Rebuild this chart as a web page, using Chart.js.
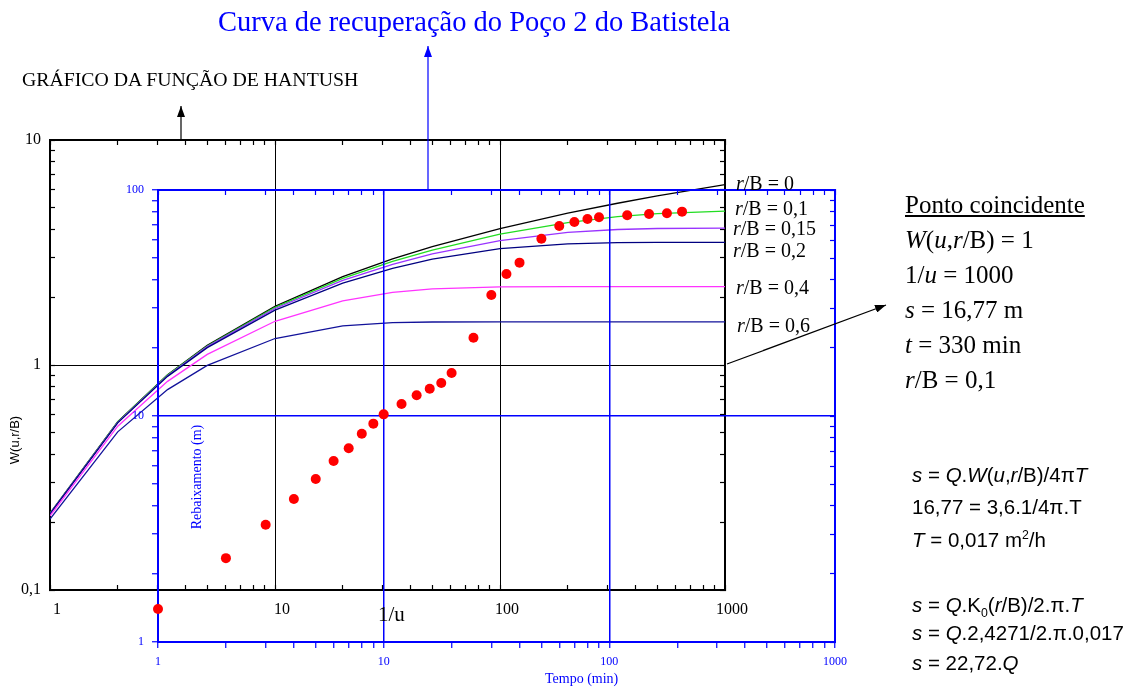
<!DOCTYPE html>
<html>
<head>
<meta charset="utf-8">
<script src="https://cdn.jsdelivr.net/npm/chart.js@4.4.0/dist/chart.umd.min.js"></script>
<style>
  body { margin: 0; background: #fff; }
  #wrap { position: relative; width: 1137px; height: 689px; overflow: hidden; font-family: "Liberation Serif", "Times New Roman", serif; color: #000; }
  #wrap canvas, #wrap svg { position: absolute; left: 0; top: 0; }
  .t { position: absolute; white-space: nowrap; line-height: 1; }
  .sans { font-family: "Liberation Sans", Arial, sans-serif; }
  .rot { transform: translate(-50%, -50%) rotate(-90deg); }
  sup, sub { font-size: 0.6em; line-height: 0; }
</style>
</head>
<body>
<div id="wrap">
  <canvas id="hantushChart" width="1137" height="689"></canvas>
  <canvas id="pocoChart" width="1137" height="689"></canvas>

  <svg width="1137" height="689">
    <defs>
      <marker id="headBlack" markerUnits="userSpaceOnUse" markerWidth="11" markerHeight="8" refX="11" refY="4" orient="auto">
        <path d="M0,0 L11,4 L0,8 z" fill="#000"/>
      </marker>
      <marker id="headBlue" markerUnits="userSpaceOnUse" markerWidth="11" markerHeight="8" refX="11" refY="4" orient="auto">
        <path d="M0,0 L11,4 L0,8 z" fill="#0000ff"/>
      </marker>
    </defs>
    <line x1="181" y1="139" x2="181" y2="106" stroke="#000" stroke-width="1.2" marker-end="url(#headBlack)"/>
    <line x1="428" y1="189" x2="428" y2="46" stroke="#0000ff" stroke-width="1.2" marker-end="url(#headBlue)"/>
    <line x1="727" y1="364" x2="886" y2="305" stroke="#000" stroke-width="1.2" marker-end="url(#headBlack)"/>
  </svg>

  <!-- titles -->
  <div class="t" style="left:218px; top:8px; font-size:28.5px; color:#0000ff;">Curva de recuperação do Poço 2 do Batistela</div>
  <div class="t" style="left:22px; top:70px; font-size:19.8px;">GRÁFICO DA FUNÇÃO DE HANTUSH</div>

  <!-- curve labels -->
  <div class="t" style="left:736px; top:173px; font-size:20px;"><i>r</i>/B = 0</div>
  <div class="t" style="left:735px; top:198px; font-size:20px;"><i>r</i>/B = 0,1</div>
  <div class="t" style="left:733px; top:218px; font-size:20px;"><i>r</i>/B = 0,15</div>
  <div class="t" style="left:733px; top:240px; font-size:20px;"><i>r</i>/B = 0,2</div>
  <div class="t" style="left:736px; top:277px; font-size:20px;"><i>r</i>/B = 0,4</div>
  <div class="t" style="left:737px; top:315px; font-size:20px;"><i>r</i>/B = 0,6</div>

  <!-- ponto coincidente -->
  <div class="t" style="left:905px; top:192px; font-size:25px;"><u>Ponto coincidente</u></div>
  <div class="t" style="left:905px; top:227px; font-size:25px;"><i>W</i>(<i>u</i>,<i>r</i>/B) = 1</div>
  <div class="t" style="left:905px; top:262px; font-size:25px;">1/<i>u</i> = 1000</div>
  <div class="t" style="left:905px; top:297px; font-size:25px;"><i>s</i> = 16,77 m</div>
  <div class="t" style="left:905px; top:332px; font-size:25px;"><i>t</i> = 330 min</div>
  <div class="t" style="left:905px; top:367px; font-size:25px;"><i>r</i>/B = 0,1</div>

  <!-- formulas -->
  <div class="t sans" style="left:912px; top:465px; font-size:20.5px;"><i>s</i> = <i>Q</i>.<i>W</i>(<i>u</i>,<i>r</i>/B)/4π<i>T</i></div>
  <div class="t sans" style="left:912px; top:497px; font-size:20.5px;">16,77 = 3,6.1/4π.T</div>
  <div class="t sans" style="left:912px; top:530px; font-size:20.5px;"><i>T</i> = 0,017 m<sup>2</sup>/h</div>
  <div class="t sans" style="left:912px; top:595px; font-size:20.5px;"><i>s</i> = <i>Q</i>.K<sub>0</sub>(<i>r</i>/B)/2.π.<i>T</i></div>
  <div class="t sans" style="left:912px; top:623px; font-size:20.5px;"><i>s</i> = <i>Q</i>.2,4271/2.π.0,017</div>
  <div class="t sans" style="left:912px; top:653px; font-size:20.5px;"><i>s</i> = 22,72.<i>Q</i></div>

  <!-- axis titles -->
  <div class="t" style="left:378px; top:604px; font-size:21px;">1/u</div>
  <div class="t sans rot" style="left:14px; top:440px; font-size:13px;">W(u,r/B)</div>
  <div class="t rot" style="left:197px; top:477px; font-size:14px; color:#0000ff;">Rebaixamento (m)</div>
  <div class="t" style="left:545px; top:672px; font-size:14px; color:#0000ff;">Tempo (min)</div>
</div>

<script>
// Hantush type curves W(u, r/B) against 1/u
const invU = [1, 2, 3.33, 5, 10, 20, 33.3, 50, 100, 200, 333, 500, 1000];
const wRB0   = [0.2194, 0.5598, 0.9057, 1.2227, 1.8229, 2.4679, 2.9591, 3.3547, 4.0379, 4.7261, 5.2349, 5.6394, 6.3315];
const wRB01  = [0.2190, 0.5582, 0.9018, 1.2155, 1.8050, 2.4270, 2.8870, 3.2440, 3.8150, 4.2960, 4.5620, 4.7080, 4.8290];
const wRB015 = [0.2186, 0.5561, 0.8969, 1.2066, 1.7830, 2.3780, 2.8020, 3.1160, 3.5725, 3.8820, 4.0020, 4.0433, 4.0596];
const wRB02  = [0.2179, 0.5533, 0.8903, 1.1944, 1.7527, 2.3110, 2.6895, 2.9520, 3.2875, 3.4567, 3.4965, 3.5043, 3.5054];
const wRB04  = [0.2136, 0.5344, 0.8457, 1.1145, 1.5643, 1.9283, 2.1028, 2.1809, 2.2254, 2.2291, 2.2291, 2.2291, 2.2291];
const wRB06  = [0.2065, 0.5044, 0.7775, 0.9965, 1.3114, 1.4927, 1.5423, 1.5530, 1.5550, 1.5550, 1.5550, 1.5550, 1.5550];

// Recovery data, Poco 2 (tempo in min, rebaixamento in m)
const tempo  = [1, 2, 3, 4, 5, 6, 7, 8, 9, 10, 12, 14, 16, 18, 20, 25, 30, 35, 40, 50, 60, 70, 80, 90, 120, 150, 180, 210];
const rebaix = [1.40, 2.35, 3.30, 4.29, 5.26, 6.32, 7.20, 8.35, 9.25, 10.17, 11.3, 12.35, 13.2, 14.0, 15.5, 22.2, 34.3, 42.5, 47.7, 60.9, 69.3, 72.2, 74.4, 75.7, 77.3, 78.3, 78.9, 80.2];

// tick positions and labels
const ticks1to1000 = [1, 2, 3, 4, 5, 6, 7, 8, 9, 10, 20, 30, 40, 50, 60, 70, 80, 90, 100, 200, 300, 400, 500, 600, 700, 800, 900, 1000];
const ticks01to10 = [0.1, 0.2, 0.3, 0.4, 0.5, 0.6, 0.7, 0.8, 0.9, 1, 2, 3, 4, 5, 6, 7, 8, 9, 10];
const ticks1to100 = [1, 2, 3, 4, 5, 6, 7, 8, 9, 10, 20, 30, 40, 50, 60, 70, 80, 90, 100];
const hXMajor = [1, 10, 100, 1000];
const hXLabels = ['1', '10', '100', '1000'];
const hYMajor = [0.1, 1, 10];
const hYLabels = ['0,1', '1', '10'];
const pXMajor = [1, 10, 100, 1000];
const pXLabels = ['1', '10', '100', '1000'];
const pYMajor = [1, 10, 100];
const pYLabels = ['1', '10', '100'];

const clear = 'rgba(0,0,0,0)';

function pairs(xs, ys) {
  return xs.map((x, i) => ({ x: x, y: ys[i] }));
}

// one log axis, its own tick list, labels only on decades
function logAxis(o) {
  return {
    type: 'logarithmic',
    position: o.position,
    min: o.min,
    max: o.max,
    afterBuildTicks: (scale) => { scale.ticks = o.ticks.map(v => ({ value: v })); },
    afterFit: (scale) => {
      if (o.position === 'top' || o.position === 'bottom') scale.height = o.size;
      else scale.width = o.size;
    },
    border: { display: true, color: o.color, width: 2 },
    grid: {
      drawOnChartArea: !!o.gridAt,
      color: (ctx) => (o.gridAt && ctx.tick && o.gridAt.includes(ctx.tick.value)) ? o.color : clear,
      lineWidth: o.gridWidth || 1,
      tickColor: o.color,
      tickLength: o.tickLength,
      tickWidth: 1.2
    },
    ticks: {
      display: !!o.labels,
      autoSkip: false,
      maxRotation: 0,
      padding: o.padding || 0,
      labelOffset: o.labelOffset || 0,
      color: o.color,
      font: { family: '"Liberation Serif", serif', size: o.fontSize || 12 },
      callback: (v) => {
        if (!o.labels) return '';
        const k = o.major.indexOf(v);
        return k >= 0 ? o.labels[k] : '';
      }
    }
  };
}

const baseOptions = {
  responsive: false,
  animation: false,
  events: [],
  plugins: { legend: { display: false }, tooltip: { enabled: false } }
};

// Hantush chart (black axes)
new Chart(document.getElementById('hantushChart'), {
  type: 'line',
  data: {
    datasets: [
      { data: pairs(invU, wRB06),  borderColor: '#12129a' },
      { data: pairs(invU, wRB04),  borderColor: '#ff33ff' },
      { data: pairs(invU, wRB02),  borderColor: '#000080' },
      { data: pairs(invU, wRB015), borderColor: '#9933ff' },
      { data: pairs(invU, wRB01),  borderColor: '#22dd22' },
      { data: pairs(invU, wRB0),   borderColor: '#000000' }
    ].map(d => Object.assign(d, { borderWidth: 1.3, pointRadius: 0, tension: 0, fill: false }))
  },
  options: Object.assign({}, baseOptions, {
    layout: { padding: { left: 0, top: 130, right: 402, bottom: 59 } },
    scales: {
      x: logAxis({ position: 'bottom', min: 1, max: 1000, ticks: ticks1to1000, size: 40, color: '#000',
        tickLength: -5, gridAt: [10, 100], major: hXMajor, labels: hXLabels, padding: 15, labelOffset: 7, fontSize: 16 }),
      y: logAxis({ position: 'left', min: 0.1, max: 10, ticks: ticks01to10, size: 50, color: '#000',
        tickLength: -5, gridAt: [1], major: hYMajor, labels: hYLabels, padding: 14, fontSize: 16 }),
      x2: logAxis({ position: 'top', min: 1, max: 1000, ticks: ticks1to1000, size: 10, color: '#000', tickLength: -5 }),
      y2: logAxis({ position: 'right', min: 0.1, max: 10, ticks: ticks01to10, size: 10, color: '#000', tickLength: -5 })
    }
  })
});

// Recovery data chart (blue axes)
new Chart(document.getElementById('pocoChart'), {
  type: 'scatter',
  data: {
    datasets: [{
      data: pairs(tempo, rebaix),
      backgroundColor: '#ff0000',
      borderColor: '#ff0000',
      borderWidth: 0,
      pointRadius: 5,
      clip: false
    }]
  },
  options: Object.assign({}, baseOptions, {
    layout: { padding: { left: 0, top: 180, right: 292, bottom: 7 } },
    scales: {
      x: logAxis({ position: 'bottom', min: 1, max: 1000, ticks: ticks1to1000, size: 40, color: '#0000ff',
        tickLength: 6, gridAt: [10, 100], gridWidth: 1.5, major: pXMajor, labels: pXLabels, padding: 7, fontSize: 12 }),
      y: logAxis({ position: 'left', min: 1, max: 100, ticks: ticks1to100, size: 158, color: '#0000ff',
        tickLength: 6, gridAt: [10], gridWidth: 1.5, major: pYMajor, labels: pYLabels, padding: 8, fontSize: 12 }),
      x2: logAxis({ position: 'top', min: 1, max: 1000, ticks: ticks1to1000, size: 10, color: '#0000ff', tickLength: -5 }),
      y2: logAxis({ position: 'right', min: 1, max: 100, ticks: ticks1to100, size: 10, color: '#0000ff', tickLength: -5 })
    }
  })
});
</script>
</body>
</html>
